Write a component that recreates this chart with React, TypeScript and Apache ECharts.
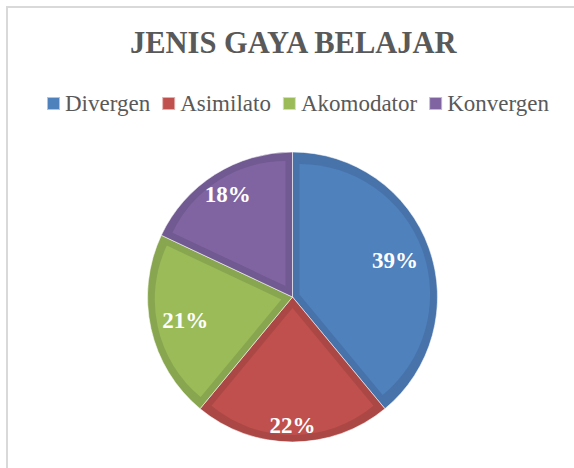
import React, { useEffect, useRef } from 'react';
import * as echarts from 'echarts';

const chartTitle = 'JENIS GAYA BELAJAR';
const categories = ['Divergen', 'Asimilato', 'Akomodator', 'Konvergen'];
const values = [39, 22, 21, 18];
const fillColors = ['#4F81BD', '#C0504D', '#9BBB59', '#8064A2'];
const edgeColors = ['#4773AA', '#AB4845', '#88A64F', '#715991'];

// layout (not data)
const CX = 292.5;
const CY = 297;
const R = 145;
const INSET = 7;
const LABEL_DIST = [106, 125, 107, 118];
const FONT = '"Liberation Serif", "Times New Roman", Times, serif';

export default function App() {
  const ref = useRef<HTMLDivElement>(null);

  useEffect(() => {
    if (!ref.current) return;
    const chart = echarts.init(ref.current, null, { renderer: 'svg' });
    const total = values.reduce((a, b) => a + b, 0);

    const base = {
      type: 'pie',
      silent: true,
      startAngle: 90,
      clockwise: true,
      center: [CX, CY],
      radius: R,
      label: { show: false },
      labelLine: { show: false },
      emphasis: { disabled: true },
      itemStyle: { borderColor: 'rgba(255,255,255,0.55)', borderWidth: 1 },
      data: categories.map((name, j) => ({
        name,
        value: values[j],
        itemStyle: { color: edgeColors[j] },
      })),
    };

    let acc = 0;
    const insetSeries = values.map((v, i) => {
      const span = (v / total) * Math.PI * 2;
      const mid = acc + span / 2;
      acc += span;
      const s = INSET / Math.sin(span / 2);
      const cx = CX + s * Math.sin(mid);
      const cy = CY - s * Math.cos(mid);
      return {
        type: 'pie',
        silent: true,
        startAngle: 90,
        clockwise: true,
        center: [cx, cy],
        radius: R - INSET - s,
        label: { show: false },
        labelLine: { show: false },
        emphasis: { disabled: true },
        data: categories.map((name, j) => ({
          name,
          value: values[j],
          itemStyle: { color: fillColors[j], opacity: j === i ? 1 : 0 },
        })),
      };
    });

    const labelSeries = values.map((_, i) => ({
      type: 'pie',
      silent: true,
      startAngle: 90,
      clockwise: true,
      center: [CX, CY],
      radius: [2 * LABEL_DIST[i] - R, R],
      itemStyle: { color: 'transparent' },
      labelLine: { show: false },
      emphasis: { disabled: true },
      label: {
        show: true,
        position: 'inside',
        formatter: '{c}%',
        color: '#ffffff',
        fontSize: 23,
        fontWeight: 'bold',
        fontFamily: FONT,
      },
      data: categories.map((name, j) => ({
        name,
        value: values[j],
        label: { show: j === i },
      })),
    }));

    const legendText = {
      fontFamily: FONT,
      fontSize: 23,
      fontWeight: 'normal',
      color: '#595959',
    };

    chart.setOption({
      animation: false,
      backgroundColor: '#ffffff',
      textStyle: { fontFamily: FONT },
      title: {
        text: chartTitle,
        left: 125,
        top: 22,
        textStyle: {
          fontFamily: FONT,
          fontSize: 30.5,
          fontWeight: 'bold',
          color: '#595959',
        },
      },
      legend: {
        left: 46,
        top: 92,
        padding: 0,
        icon: 'rect',
        itemWidth: 13,
        itemHeight: 13,
        itemGap: 11,
        selectedMode: false,
        textStyle: legendText,
        data: categories.map((name, i) => ({
          name,
          itemStyle: { color: fillColors[i] },
          textStyle: legendText,
        })),
      },
      graphic: [
        {
          type: 'rect',
          silent: true,
          shape: { x: 7, y: 7, width: 620, height: 520 },
          style: { fill: 'none', stroke: '#D9D9D9', lineWidth: 2 },
        },
      ],
      series: [base, ...insetSeries, ...labelSeries],
    });

    return () => chart.dispose();
  }, []);

  return (
    <div
      ref={ref}
      style={{ position: 'fixed', left: 0, top: 0, width: 574, height: 468 }}
    />
  );
}
